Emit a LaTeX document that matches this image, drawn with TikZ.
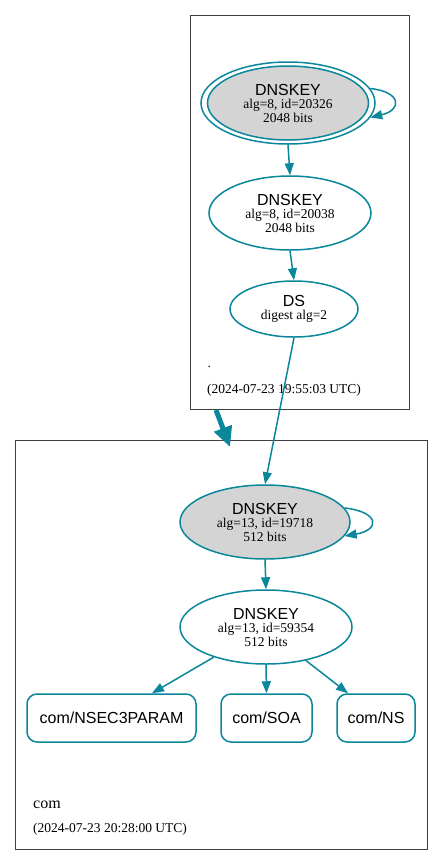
\documentclass[tikz,border=0pt]{standalone}
\usepackage{fontspec}
\setmainfont{Liberation Serif}
\setsansfont{Liberation Sans}
\usetikzlibrary{shapes.geometric,arrows.meta}
\definecolor{teal1}{HTML}{0A879A}
\begin{document}
\begin{tikzpicture}[x=1pt,y=-1pt,
  ell/.style={ellipse,draw=teal1,line width=1.5pt,inner sep=0pt,align=center,font=\fontsize{13.5}{13.5}\selectfont},
  keyfill/.style={fill=black!17},
  rec/.style={draw=teal1,line width=1.5pt,rounded corners=10pt,inner sep=0pt,font=\sffamily\fontsize{16}{16}\selectfont},
  edge/.style={draw=teal1,line width=1.5pt,-{Triangle[length=12pt,width=9pt]}},
  cluster/.style={draw=black!75,line width=0.7pt},
]
\useasboundingbox (0,0) rectangle (443,865);
\fill[white] (0,0) rectangle (443,865);
% clusters
\draw[cluster] (190,15) rectangle (409,409);
\draw[cluster] (15,440) rectangle (427,849);

\newcommand{\keylabel}[3]{{\sffamily\fontsize{16}{16}\selectfont #1}\\[0pt]#2\\[0pt]#3}

% root zone
\node[ell,minimum width=174pt,minimum height=82pt] (rkskout) at (288,103) {};
\node[ell,keyfill,minimum width=161pt,minimum height=74pt] (rksk) at (288,103) {\keylabel{DNSKEY}{alg=8, id=20326}{2048 bits}};
\node[ell,minimum width=162pt,minimum height=74pt] (rzsk) at (290,213) {\keylabel{DNSKEY}{alg=8, id=20038}{2048 bits}};
\node[ell,minimum width=128pt,minimum height=56pt] (ds) at (294,309) {{\sffamily\fontsize{16}{16}\selectfont DS}\\[0pt]digest alg=2};
\node[anchor=west,font=\fontsize{13.5}{14}\selectfont] (rdot) at (204,367) {.};
\node[anchor=west,font=\fontsize{13.5}{14}\selectfont,inner sep=0pt] (rtime) at (207,390) {(2024-07-23 19:55:03 UTC)};

% com zone
\node[ell,keyfill,minimum width=170pt,minimum height=74pt] (cksk) at (265,522) {\keylabel{DNSKEY}{alg=13, id=19718}{512 bits}};
\node[ell,minimum width=172pt,minimum height=74pt] (czsk) at (266,627) {\keylabel{DNSKEY}{alg=13, id=59354}{512 bits}};
\node[rec,minimum width=169pt,minimum height=48pt] (nsec) at (111.5,718) {com/NSEC3PARAM};
\node[rec,minimum width=91pt,minimum height=48pt] (soa) at (266.5,718) {com/SOA};
\node[rec,minimum width=78pt,minimum height=48pt] (ns) at (376,718) {com/NS};
\node[anchor=west,font=\fontsize{16}{16}\selectfont,inner sep=0pt] (clabel) at (33,805) {com};
\node[anchor=west,font=\fontsize{13.5}{14}\selectfont,inner sep=0pt] (ctime) at (33,829) {(2024-07-23 20:28:00 UTC)};

% edges
\draw[edge] (rkskout.south) -- (rzsk.north);
\draw[edge] (rzsk.south) -- (ds.north);
\draw[edge] (ds.south) -- (cksk.north);
\draw[edge] (cksk.south) -- (czsk.north);
\draw[edge] (czsk.south) -- (soa.north);
\draw[edge] (czsk.210) -- (nsec.north -| 152,0);
\draw[edge] (czsk.-40) -- (ns.north -| 348,0);
% self loops
\draw[edge] (rkskout.10) .. controls (402,92) and (402,110) .. (rkskout.-10);
\draw[edge] (cksk.10) .. controls (380,512) and (380,530) .. (cksk.-10);
% thick delegation arrow
\coordinate (ta) at (216,410);
\coordinate (tb) at (230,447);
\draw[draw=teal1,line width=5pt,-{Triangle[length=20pt,width=18pt]}] (ta) -- (tb);
\end{tikzpicture}
\end{document}
